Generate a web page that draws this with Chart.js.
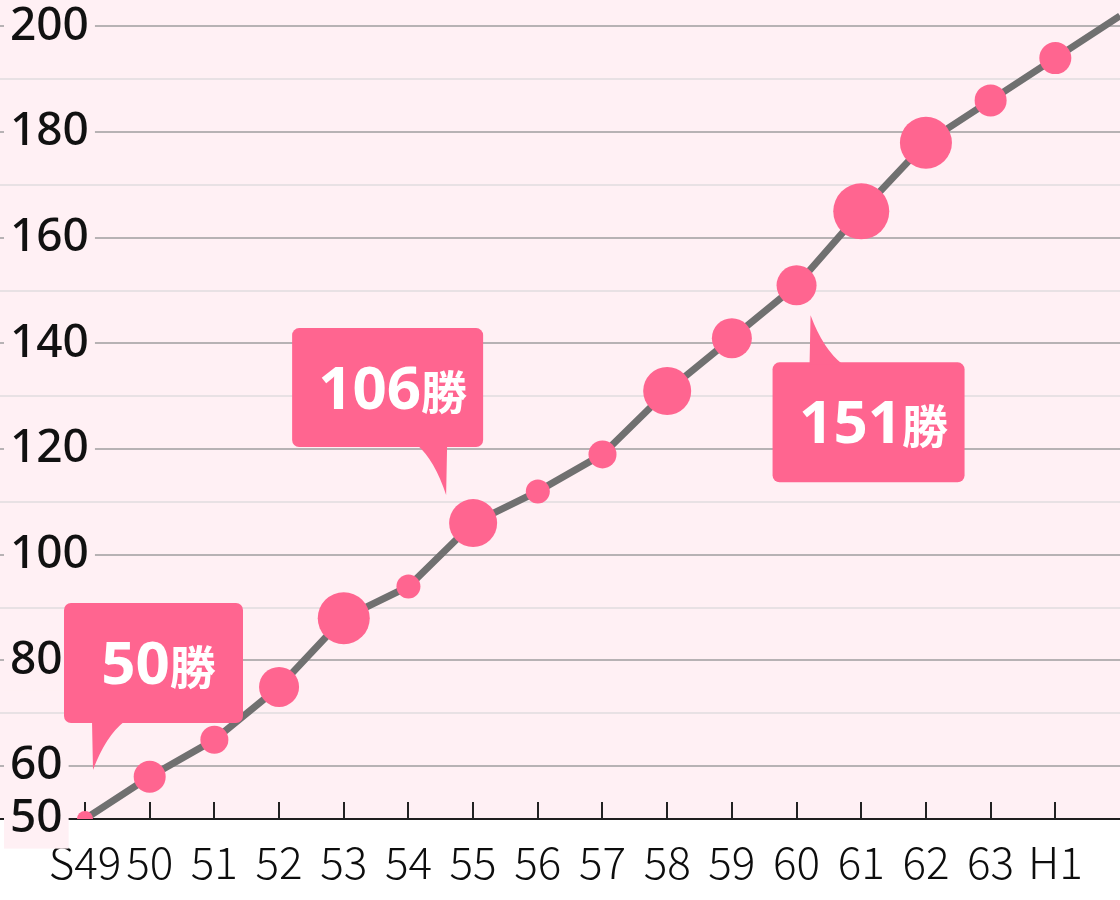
<!DOCTYPE html>
<html>
<head>
<meta charset="utf-8">
<script src="https://cdn.jsdelivr.net/npm/chart.js@4.4.1/dist/chart.umd.min.js"></script>
<style>
  html, body { margin: 0; padding: 0; background: #fff; }
</style>
</head>
<body>
<canvas id="chart" width="1120" height="900"></canvas>
<script>
// seasons (Showa 49 .. Heisei 1, plus the next one that runs off the right edge)
const seasons = ['S49', '50', '51', '52', '53', '54', '55', '56', '57', '58', '59', '60', '61', '62', '63', 'H1', 'H2'];
// career wins at the end of each season
const totalWins = [50, 58, 65, 75, 88, 94, 106, 112, 119, 131, 141, 151, 165, 178, 186, 194, 202];
// wins in that season (sets the dot size)
const seasonWins = [4, 8, 7, 10, 13, 6, 12, 6, 7, 12, 10, 10, 14, 13, 8, 8, 0];
// y grid lines and the ones that carry a label
const yGrid = [50, 60, 70, 80, 90, 100, 110, 120, 130, 140, 150, 160, 170, 180, 190, 200];
const yLabels = [50, 60, 80, 100, 120, 140, 160, 180, 200];

const PINK = '#ff6590';
const BG = '#fff0f4';

// callouts: anchored to a season's dot, offsets in px
const callouts = [
  { index: 0, tip: [8, -49], box: [-29, -167, 179, 120], base: [-1, 32] },
  { index: 6, tip: [-27, -28], box: [-154, -167, 191, 119], base: [-29, 1] },
  { index: 11, tip: [14, 30], box: [-38, 47, 192, 120], base: [-1, 32] },
];

const bgPlugin = {
  id: 'bg',
  beforeDraw(chart) {
    const { ctx, chartArea: a } = chart;
    ctx.save();
    ctx.fillStyle = '#fff';
    ctx.fillRect(0, 0, chart.width, chart.height);
    ctx.fillStyle = BG;
    ctx.fillRect(a.left, a.top, a.right - a.left, a.bottom - a.top);
    ctx.restore();
  }
};

// small tick marks standing up from the x axis
const tickPlugin = {
  id: 'xticks',
  beforeDatasetsDraw(chart) {
    const { ctx, chartArea: a, scales } = chart;
    ctx.save();
    ctx.strokeStyle = '#222';
    ctx.lineWidth = 2;
    scales.x.ticks.forEach(t => {
      const x = Math.round(scales.x.getPixelForValue(t.value));
      ctx.beginPath();
      ctx.moveTo(x, a.bottom - 17);
      ctx.lineTo(x, a.bottom);
      ctx.stroke();
    });
    ctx.restore();
  }
};

function roundRect(ctx, x, y, w, h, r) {
  ctx.beginPath();
  ctx.moveTo(x + r, y);
  ctx.arcTo(x + w, y, x + w, y + h, r);
  ctx.arcTo(x + w, y + h, x, y + h, r);
  ctx.arcTo(x, y + h, x, y, r);
  ctx.arcTo(x, y, x + w, y, r);
  ctx.closePath();
}

const calloutPlugin = {
  id: 'callouts',
  afterDraw(chart) {
    const { ctx, scales } = chart;
    ctx.save();
    callouts.forEach(c => {
      const px = scales.x.getPixelForValue(c.index);
      const py = scales.y.getPixelForValue(totalWins[c.index]);
      const tx = px + c.tip[0], ty = py + c.tip[1];
      const bx = tx + c.box[0], by = ty + c.box[1], bw = c.box[2], bh = c.box[3];
      ctx.fillStyle = PINK;
      roundRect(ctx, bx, by, bw, bh, 7);
      ctx.fill();
      // tail
      const down = ty > by + bh;
      const edge = down ? by + bh - 2 : by + 2;
      const x1 = tx + c.base[0], x2 = tx + c.base[1];
      const far = Math.abs(x1 - tx) > Math.abs(x2 - tx) ? x1 : x2;
      const near = far === x1 ? x2 : x1;
      ctx.beginPath();
      ctx.moveTo(near, edge);
      ctx.lineTo(tx, ty);
      ctx.quadraticCurveTo((far + tx) / 2 + (tx - far) * 0.1, (edge + ty) / 2 + (edge - ty) * 0.2, far, edge);
      ctx.closePath();
      ctx.fill();
      // text
      const num = String(totalWins[c.index]);
      const fNum = 'bold 60px "Noto Sans"';
      const fUnit = 'bold 46px "Noto Sans CJK JP"';
      ctx.font = fNum;
      const wNum = ctx.measureText(num).width;
      ctx.font = fUnit;
      const wUnit = ctx.measureText('勝').width;
      const startX = bx + bw / 2 + 5 - (wNum + wUnit) / 2;
      const baseY = by + 81;
      ctx.fillStyle = '#fff';
      ctx.textBaseline = 'alphabetic';
      ctx.textAlign = 'left';
      ctx.font = fNum;
      ctx.fillText(num, startX, baseY);
      ctx.font = fUnit;
      ctx.fillText('勝', startX + wNum, baseY);
    });
    ctx.restore();
  }
};

const flatY = s => { s.width = 0; s.paddingTop = 0; s.paddingBottom = 0; };

new Chart(document.getElementById('chart'), {
  type: 'line',
  data: {
    datasets: [{
      data: totalWins.map((v, i) => ({ x: i, y: v })),
      borderColor: '#707070',
      borderWidth: 7,
      tension: 0,
      pointRadius: seasonWins.map(w => w * 2),
      pointHoverRadius: seasonWins.map(w => w * 2),
      pointBackgroundColor: PINK,
      pointBorderWidth: 0,
      yAxisID: 'y',
    }]
  },
  options: {
    responsive: false,
    animation: false,
    devicePixelRatio: 1,
    layout: { padding: 0, autoPadding: false },
    plugins: { legend: { display: false }, tooltip: { enabled: false } },
    scales: {
      x: {
        type: 'linear',
        min: -1.314,
        max: 16,
        afterBuildTicks: s => { s.ticks = seasons.slice(0, 16).map((_, i) => ({ value: i })); },
        afterFit: s => { s.height = 81; s.paddingLeft = 0; s.paddingRight = 0; },
        grid: { display: false, drawTicks: false },
        border: { display: true, color: '#1e1e1e', width: 2 },
        ticks: {
          autoSkip: false,
          maxRotation: 0,
          padding: 17,
          color: '#0d0d0d',
          font: { family: '"Noto Sans CJK JP"', size: 44, weight: 300 },
          callback: v => seasons[v]
        }
      },
      // grid lines every 10
      y: {
        min: 50,
        max: 205,
        afterBuildTicks: s => { s.ticks = yGrid.map(v => ({ value: v })); },
        afterFit: flatY,
        grid: {
          drawTicks: false,
          lineWidth: 2,
          color: c => c.tick.value === 50 ? 'rgba(0,0,0,0)' : (c.tick.value % 20 === 0 ? '#b7b2b4' : '#e8e1e4')
        },
        border: { display: false },
        ticks: { display: false }
      },
      // labels with a backdrop, drawn on top of the grid
      yl: {
        position: 'left',
        min: 50,
        max: 205,
        afterBuildTicks: s => { s.ticks = yLabels.map(v => ({ value: v })); },
        afterFit: flatY,
        grid: { display: false, drawTicks: false },
        border: { display: false },
        ticks: {
          mirror: true,
          padding: 10,
          z: 1,
          color: '#111',
          font: { family: '"Noto Sans"', size: 46, weight: 500 },
          showLabelBackdrop: true,
          backdropColor: BG,
          backdropPadding: { x: 6, y: 2 },
          callback: v => String(v)
        }
      }
    }
  },
  plugins: [bgPlugin, tickPlugin, calloutPlugin]
});
</script>
</body>
</html>
